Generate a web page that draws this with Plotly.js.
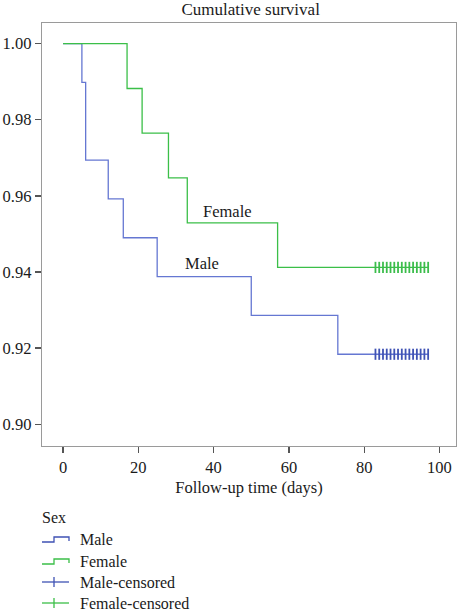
<!DOCTYPE html>
<html>
<head>
<meta charset="utf-8">
<script src="https://cdn.plot.ly/plotly-3.0.1.min.js"></script>
<style>
  html, body { margin: 0; padding: 0; background: #fff; }
  #chart { width: 460px; height: 611px; }
</style>
</head>
<body>
<div id="chart"></div>
<script>
// Kaplan-Meier step curves by sex
const maleTime = [0, 5, 6, 12, 16, 25, 50, 73, 97];
const maleSurv = [1.0, 0.9898, 0.9694, 0.9592, 0.9490, 0.9388, 0.9286, 0.9184, 0.9184];
const femaleTime = [0, 17, 21, 28, 33, 57, 97];
const femaleSurv = [1.0, 0.9882, 0.9765, 0.9647, 0.9529, 0.9412, 0.9412];

// Censoring times (days) on the final plateau of each curve
const maleCensored = [83, 84, 85, 86, 87, 88, 89, 90, 91, 92, 93, 94, 95, 96, 97];
const femaleCensored = [83, 84, 85, 86, 87, 88, 89, 90, 91, 92, 93, 94, 95, 96, 97];

const xTicks = [0, 20, 40, 60, 80, 100];
const yTicks = [0.90, 0.92, 0.94, 0.96, 0.98, 1.00];
const legendLabels = ['Male', 'Female', 'Male-censored', 'Female-censored'];

const blueLine = '#6577d2';
const blueMark = '#3f52b4';
const greenLine = '#3bbf48';
const greenMark = '#3cbd4c';
const serif = 'Liberation Serif';
const fs = 16.5;

const lastSurv = arr => arr[arr.length - 1];

const traces = [
  {
    x: maleTime, y: maleSurv, mode: 'lines', line: { shape: 'hv', color: blueLine, width: 1.3 },
    name: 'Male', showlegend: false, hoverinfo: 'skip'
  },
  {
    x: femaleTime, y: femaleSurv, mode: 'lines', line: { shape: 'hv', color: greenLine, width: 1.3 },
    name: 'Female', showlegend: false, hoverinfo: 'skip'
  },
  {
    x: maleCensored, y: maleCensored.map(() => lastSurv(maleSurv)), mode: 'markers',
    marker: { symbol: 'line-ns', size: 8, line: { color: blueMark, width: 1.8 } },
    name: 'Male-censored', showlegend: false, hoverinfo: 'skip'
  },
  {
    x: femaleCensored, y: femaleCensored.map(() => lastSurv(femaleSurv)), mode: 'markers',
    marker: { symbol: 'line-ns', size: 8, line: { color: greenMark, width: 1.8 } },
    name: 'Female-censored', showlegend: false, hoverinfo: 'skip'
  }
];

// Plot area in pixels, used to place the hand-drawn legend below the axes
const M = { l: 42, r: 4, t: 23, b: 165 };
const W = 460, H = 611;
const pw = W - M.l - M.r, ph = H - M.t - M.b;
const px = x => (x - M.l) / pw;
const py = y => (H - M.b - y) / ph;

const legendRows = [539, 561, 582, 603];
const glyphColors = [blueMark, greenLine, blueMark, greenLine];
const textColor = '#1a1a1a';

const shapes = [];
const annotations = [
  { text: 'Female', x: 36.6, y: femaleSurv[4], xref: 'x', yref: 'y',
    xanchor: 'left', yanchor: 'bottom', yshift: 0, showarrow: false,
    font: { family: serif, size: fs, color: textColor } },
  { text: 'Male', x: 31.8, y: maleSurv[5], xref: 'x', yref: 'y',
    xanchor: 'left', yanchor: 'bottom', yshift: 2, showarrow: false,
    font: { family: serif, size: fs, color: textColor } },
  { text: 'Sex', x: px(40), y: py(517), xref: 'paper', yref: 'paper', xanchor: 'left', yanchor: 'middle',
    showarrow: false, font: { family: serif, size: fs - 0.5, color: textColor } }
];

legendLabels.forEach((lab, i) => {
  const yy = legendRows[i];
  annotations.push({
    text: lab, x: px(78), y: py(yy), xref: 'paper', yref: 'paper', xanchor: 'left', yanchor: 'middle',
    showarrow: false, font: { family: serif, size: fs - 0.5, color: textColor }
  });
  if (i < 2) {
    // step glyph
    shapes.push({
      type: 'path', xref: 'paper', yref: 'paper',
      path: `M ${px(42)} ${py(yy + 3)} L ${px(54)} ${py(yy + 3)} L ${px(54)} ${py(yy - 2)} L ${px(69)} ${py(yy - 2)} L ${px(69)} ${py(yy + 2)}`,
      line: { color: glyphColors[i], width: 1.3 }
    });
  } else {
    // censor glyph
    shapes.push({
      type: 'line', xref: 'paper', yref: 'paper', x0: px(42), x1: px(69), y0: py(yy), y1: py(yy),
      line: { color: glyphColors[i], width: 1.3 }
    });
    shapes.push({
      type: 'line', xref: 'paper', yref: 'paper', x0: px(54), x1: px(54), y0: py(yy - 5), y1: py(yy + 5),
      line: { color: glyphColors[i], width: 1.3 }
    });
  }
});

const layout = {
  width: W, height: H,
  margin: M,
  paper_bgcolor: '#fff', plot_bgcolor: '#fff',
  showlegend: false,
  title: { text: 'Cumulative survival', x: 0.545, xanchor: 'center', y: 0.986, yanchor: 'middle',
    font: { family: serif, size: fs + 0.5, color: textColor } },
  xaxis: {
    range: [-5.6, 104.4], tickvals: xTicks, ticktext: xTicks.map(String),
    showgrid: false, zeroline: false, showline: true, mirror: true, linecolor: '#9a9a9a', linewidth: 1.3,
    ticks: 'outside', ticklen: 6, tickcolor: '#555', tickwidth: 1.3,
    tickfont: { family: serif, size: fs, color: textColor },
    title: { text: 'Follow-up time (days)', standoff: 5, font: { family: serif, size: fs, color: textColor } }
  },
  yaxis: {
    range: [0.8943, 1.0054], tickvals: yTicks, ticktext: yTicks.map(v => v.toFixed(2)),
    showgrid: false, zeroline: false, showline: true, mirror: true, linecolor: '#9a9a9a', linewidth: 1.3,
    ticks: 'outside', ticklen: 6, tickcolor: '#555', tickwidth: 1.3,
    tickfont: { family: serif, size: fs, color: textColor }
  },
  shapes: shapes,
  annotations: annotations
};

Plotly.newPlot('chart', traces, layout, { staticPlot: true, displayModeBar: false });
</script>
</body>
</html>
